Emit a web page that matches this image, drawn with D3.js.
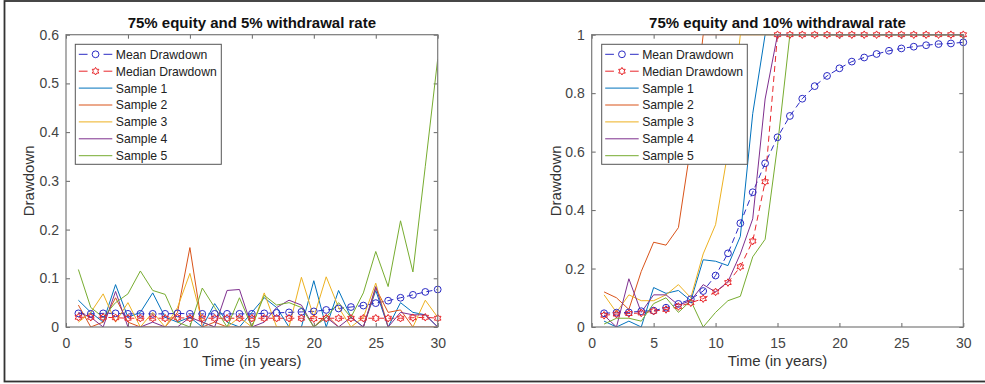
<!DOCTYPE html>
<html>
<head>
<meta charset="utf-8">
<script src="https://cdn.jsdelivr.net/npm/d3@7/dist/d3.min.js"></script>
<style>
  html, body { margin: 0; padding: 0; background: #fff; }
  svg { display: block; font-family: "Liberation Sans", Arial, sans-serif; }
</style>
</head>
<body>
<svg id="chart" width="985" height="384"></svg>
<script>
// ---------------- DATA ----------------
const years = [1,2,3,4,5,6,7,8,9,10,11,12,13,14,15,16,17,18,19,20,21,22,23,24,25,26,27,28,29,30];
const seriesNames = ["Mean Drawdown","Median Drawdown","Sample 1","Sample 2","Sample 3","Sample 4","Sample 5"];
const titles = ["75% equity and 5% withdrawal rate", "75% equity and 10% withdrawal rate"];
const xTicks = [0,5,10,15,20,25,30];
const yTicksA = [0,0.1,0.2,0.3,0.4,0.5,0.6];
const yTicksB = [0,0.2,0.4,0.6,0.8,1];

// Panel A: 5% withdrawal
const meanA   = [0.028,0.027,0.028,0.028,0.027,0.027,0.027,0.027,0.028,0.027,0.027,0.027,0.027,0.027,0.027,0.028,0.029,0.030,0.031,0.032,0.035,0.038,0.041,0.044,0.049,0.054,0.060,0.066,0.072,0.077];
const medianA = [0.020,0.020,0.020,0.019,0.018,0.018,0.018,0.018,0.019,0.018,0.018,0.018,0.018,0.018,0.018,0.018,0.018,0.018,0.018,0.017,0.018,0.018,0.018,0.018,0.018,0.018,0.018,0.019,0.020,0.018];
const s1A = [0.055,0.030,0.010,0.087,0.020,0.030,0.070,0.020,0.010,0.020,0.000,0.048,0.010,0.000,0.030,0.060,0.040,0.000,0.000,0.095,0.000,0.075,0.020,0.000,0.075,0.000,0.050,0.030,0.025,0.000];
const s2A = [0.045,0.000,0.010,0.060,0.010,0.000,0.000,0.000,0.030,0.163,0.000,0.010,0.000,0.000,0.000,0.000,0.000,0.000,0.000,0.000,0.025,0.000,0.000,0.000,0.080,0.030,0.035,0.000,0.000,0.000];
const s3A = [0.010,0.030,0.068,0.010,0.050,0.000,0.030,0.000,0.040,0.110,0.010,0.000,0.000,0.020,0.000,0.070,0.000,0.000,0.102,0.020,0.103,0.040,0.000,0.020,0.090,0.000,0.000,0.000,0.055,0.020];
const s4A = [0.030,0.020,0.000,0.073,0.000,0.000,0.010,0.000,0.000,0.020,0.010,0.000,0.075,0.077,0.000,0.010,0.040,0.055,0.045,0.000,0.020,0.000,0.020,0.000,0.083,0.000,0.030,0.025,0.025,0.000];
const s5A = [0.118,0.040,0.020,0.050,0.068,0.115,0.075,0.067,0.010,0.000,0.080,0.040,0.000,0.060,0.000,0.065,0.045,0.050,0.040,0.000,0.020,0.050,0.020,0.070,0.155,0.083,0.218,0.113,0.330,0.550];

// Panel B: 10% withdrawal
const meanB   = [0.047,0.049,0.050,0.054,0.056,0.066,0.079,0.095,0.123,0.176,0.252,0.355,0.461,0.560,0.649,0.722,0.781,0.824,0.859,0.885,0.908,0.922,0.934,0.945,0.953,0.959,0.964,0.968,0.970,0.974];
const medianB = [0.040,0.044,0.046,0.048,0.054,0.060,0.070,0.083,0.097,0.120,0.152,0.206,0.294,0.497,1,1,1,1,1,1,1,1,1,1,1,1,1,1,1,1];
const s1B = [0.020,0.000,0.020,0.000,0.135,0.115,0.125,0.090,0.230,0.225,0.210,0.310,0.730,1,1,1,1,1,1,1,1,1,1,1,1,1,1,1,1,1];
const s2B = [0.120,0.100,0.060,0.190,0.290,0.280,0.340,0.620,1,1,1,1,1,1,1,1,1,1,1,1,1,1,1,1,1,1,1,1,1,1];
const s3B = [0.110,0.050,0.110,0.090,0.090,0.110,0.145,0.100,0.250,0.350,0.600,1,1,1,1,1,1,1,1,1,1,1,1,1,1,1,1,1,1,1];
const s4B = [0.040,0.000,0.165,0.050,0.110,0.110,0.075,0.090,0.145,0.120,0.155,0.250,0.370,0.780,1,1,1,1,1,1,1,1,1,1,1,1,1,1,1,1];
const s5B = [0.010,0.030,0.030,0.020,0.080,0.100,0.050,0.090,0.000,0.050,0.090,0.105,0.240,0.300,0.620,1,1,1,1,1,1,1,1,1,1,1,1,1,1,1];

// ---------------- STYLE ----------------
const meanColor = "#2b2bc4";
const medianColor = "#e8262a";
const sampleColors = ["#0072BD","#D95319","#EDB120","#7E2F8E","#77AC30"];

const svg = d3.select("#chart");

// outer frame
svg.append("rect").attr("x",4.5).attr("y",1).attr("width",1000).attr("height",380.5)
  .attr("fill","none").attr("stroke","#333").attr("stroke-width",1.8);

function hexagram(r) {
  const pts = [];
  for (let i = 0; i < 12; i++) {
    const a = -Math.PI/2 + i*Math.PI/6;
    const rr = i % 2 === 0 ? r : r*0.58;
    pts.push([rr*Math.cos(a), rr*Math.sin(a)]);
  }
  return "M" + pts.map(p => p[0].toFixed(2)+","+p[1].toFixed(2)).join("L") + "Z";
}

function panel(cfg) {
  const {left, right, top, bottom, yMax, yTicks, title, mean, median, samples, ylabelX, legend, id} = cfg;
  const x = d3.scaleLinear().domain([0,30]).range([left,right]);
  const y = d3.scaleLinear().domain([0,yMax]).range([bottom,top]);
  const g = svg.append("g");

  // clip
  svg.append("clipPath").attr("id","clip"+id).append("rect")
    .attr("x",left).attr("y",top-1.5).attr("width",right-left).attr("height",bottom-top+1.5);

  // axes
  const fmt = d3.format("~g");
  const ax = g.append("g").attr("transform",`translate(0,${bottom})`)
    .call(d3.axisBottom(x).tickValues(xTicks).tickSizeInner(-4).tickSizeOuter(0).tickPadding(11).tickFormat(fmt));
  const axT = g.append("g").attr("transform",`translate(0,${top})`)
    .call(d3.axisTop(x).tickValues(xTicks).tickSizeInner(-4).tickSizeOuter(0).tickFormat(""));
  const ay = g.append("g").attr("transform",`translate(${left},0)`)
    .call(d3.axisLeft(y).tickValues(yTicks).tickSizeInner(-4).tickSizeOuter(0).tickPadding(7).tickFormat(fmt));
  const ayR = g.append("g").attr("transform",`translate(${right},0)`)
    .call(d3.axisRight(y).tickValues(yTicks).tickSizeInner(-4).tickSizeOuter(0).tickFormat(""));
  [ax,axT,ay,ayR].forEach(a => {
    a.select(".domain").remove();
    a.selectAll(".tick line").attr("stroke","#666");
    a.selectAll("text").attr("fill","#444").style("font-size","14px").style("font-family","'Liberation Sans', Arial, sans-serif");
  });

  const line = d3.line().x((d,i) => x(years[i])).y(d => y(d));
  const plot = g.append("g").attr("clip-path",`url(#clip${id})`);

  // mean
  plot.append("path").attr("d",line(mean)).attr("fill","none").attr("stroke",meanColor)
    .attr("stroke-width",1).attr("stroke-dasharray","6,4");
  // median
  plot.append("path").attr("d",line(median)).attr("fill","none").attr("stroke",medianColor)
    .attr("stroke-width",1).attr("stroke-dasharray","6,4");
  // samples
  samples.forEach((s,k) => {
    plot.append("path").attr("d",line(s)).attr("fill","none").attr("stroke",sampleColors[k])
      .attr("stroke-width",1);
  });
  // markers
  g.append("g").selectAll("circle").data(mean).join("circle")
    .attr("cx",(d,i)=>x(years[i])).attr("cy",d=>y(d)).attr("r",3.4)
    .attr("fill","none").attr("stroke",meanColor).attr("stroke-width",1);
  g.append("g").selectAll("path").data(median).join("path")
    .attr("transform",(d,i)=>`translate(${x(years[i])},${y(d)})`).attr("d",hexagram(3.8))
    .attr("fill","none").attr("stroke",medianColor).attr("stroke-width",1);

  // box
  g.append("rect").attr("x",left).attr("y",top).attr("width",right-left).attr("height",bottom-top)
    .attr("fill","none").attr("stroke","#7a7a7a").attr("stroke-width",1.2);

  // title
  g.append("text").attr("x",(left+right)/2).attr("y",28).attr("text-anchor","middle")
    .style("font-size","15px").style("font-weight","bold").attr("fill","#111").text(title);
  // x label
  g.append("text").attr("x",(left+right)/2).attr("y",366).attr("text-anchor","middle")
    .style("font-size","15px").attr("fill","#333").text("Time (in years)");
  // y label
  g.append("text").attr("transform",`translate(${ylabelX},${(top+bottom)/2}) rotate(-90)`)
    .attr("text-anchor","middle").style("font-size","15px").attr("fill","#333").text("Drawdown");

  // legend
  const L = legend;
  const lg = g.append("g");
  lg.append("rect").attr("x",L.x).attr("y",L.y).attr("width",L.w).attr("height",L.h)
    .attr("fill","#fff").attr("stroke","#555").attr("stroke-width",1);
  const rowH = 16.9, firstRow = L.y + 10;
  const lineX0 = L.x + 3.5, lineX1 = L.x + 37, textX = L.x + 40.5, mid = (lineX0+lineX1)/2;
  seriesNames.forEach((name,i) => {
    const cy = firstRow + i*rowH;
    if (i < 2) {
      const c = i === 0 ? meanColor : medianColor;
      lg.append("line").attr("x1",lineX0).attr("x2",mid-8).attr("y1",cy).attr("y2",cy).attr("stroke",c).attr("stroke-width",1);
      lg.append("line").attr("x1",mid+8).attr("x2",lineX1).attr("y1",cy).attr("y2",cy).attr("stroke",c).attr("stroke-width",1);
      if (i === 0) lg.append("circle").attr("cx",mid).attr("cy",cy).attr("r",3.4).attr("fill","none").attr("stroke",c);
      else lg.append("path").attr("transform",`translate(${mid},${cy})`).attr("d",hexagram(3.8)).attr("fill","none").attr("stroke",c);
    } else {
      lg.append("line").attr("x1",lineX0).attr("x2",lineX1).attr("y1",cy).attr("y2",cy)
        .attr("stroke",sampleColors[i-2]).attr("stroke-width",1);
    }
    lg.append("text").attr("x",textX).attr("y",cy+4.4).style("font-size","12.2px").attr("fill","#222").text(name);
  });
}

panel({id:"A", left:66, right:437.7, top:34.7, bottom:327, yMax:0.6, yTicks:yTicksA, title:titles[0],
  mean:meanA, median:medianA, samples:[s1A,s2A,s3A,s4A,s5A], ylabelX:34.3,
  legend:{x:75.3, y:44.3, w:146, h:120}});
panel({id:"B", left:591.7, right:963.3, top:34.7, bottom:327, yMax:1, yTicks:yTicksB, title:titles[1],
  mean:meanB, median:medianB, samples:[s1B,s2B,s3B,s4B,s5B], ylabelX:560.5,
  legend:{x:601.7, y:44.3, w:145.6, h:120}});
</script>
</body>
</html>
